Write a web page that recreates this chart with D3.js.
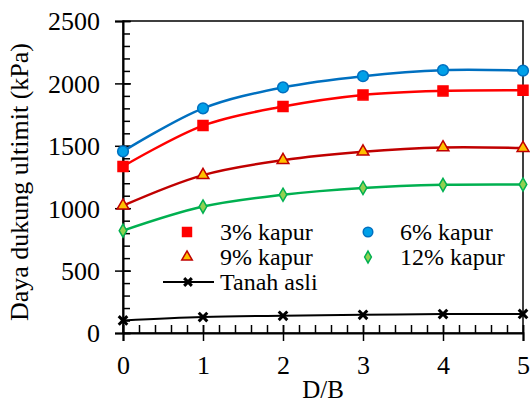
<!DOCTYPE html>
<html>
<head>
<meta charset="utf-8">
<script src="https://cdn.jsdelivr.net/npm/d3@7"></script>
<style>
  body { margin: 0; background: #fff; }
</style>
</head>
<body>
<svg width="530" height="402"></svg>
<script>
const db = [0, 1, 2, 3, 4, 5];
const kapur3 = [1335, 1662, 1815, 1908, 1940, 1945];
const kapur6 = [1455, 1800, 1968, 2058, 2106, 2102];
const kapur9 = [1020, 1265, 1385, 1453, 1487, 1482];
const kapur12 = [820, 1013, 1108, 1162, 1187, 1190];
const tanahAsli = [101, 128, 138, 146, 152, 153];
const xTicks = [0, 1, 2, 3, 4, 5];
const yTicks = [0, 500, 1000, 1500, 2000, 2500];

const FONT = 'Liberation Serif';
const svg = d3.select("svg");
const margin = {left: 123, right: 7, top: 21, bottom: 69};
const width = 530 - margin.left - margin.right;
const height = 402 - margin.top - margin.bottom;

const x = d3.scaleLinear().domain([0, 5]).range([margin.left, margin.left + width]);
const y = d3.scaleLinear().domain([0, 2500]).range([margin.top + height, margin.top]);

const g = svg.append('g');

// frame
g.append('rect')
    .attr('x', x(0)).attr('y', y(2500))
    .attr('width', x(5) - x(0)).attr('height', y(0) - y(2500))
    .attr('fill', 'none').attr('stroke', '#000').attr('stroke-width', 1.5);

// minor ticks (inside)
g.append('g')
    .attr('transform', `translate(0,${y(0)})`)
    .call(d3.axisTop(x).tickValues(d3.range(0, 5.01, 0.2)).tickSize(8).tickFormat(''))
    .call(a => a.select('.domain').remove())
    .selectAll('line').attr('stroke-width', 1.5);
g.append('g')
    .attr('transform', `translate(${x(0)},0)`)
    .call(d3.axisRight(y).tickValues(d3.range(0, 2501, 100)).tickSize(7).tickFormat(''))
    .call(a => a.select('.domain').remove())
    .selectAll('line').attr('stroke-width', 1.5);

// major ticks crossing the axis
const xAxis = g.append('g')
    .attr('transform', `translate(0,${y(0)})`)
    .call(d3.axisBottom(x).tickValues(xTicks).tickSize(8).tickPadding(15).tickFormat(d3.format('d')));
xAxis.select('.domain').attr('stroke-width', 2);
xAxis.selectAll('line').attr('stroke-width', 1.5).attr('y1', -8);
xAxis.selectAll('text').attr('font-size', 26).attr('font-family', FONT).attr('fill', '#000');

const yAxis = g.append('g')
    .attr('transform', `translate(${x(0)},0)`)
    .call(d3.axisLeft(y).tickValues(yTicks).tickSize(8).tickPadding(15).tickFormat(d3.format('d')));
yAxis.select('.domain').attr('stroke-width', 2);
yAxis.selectAll('line').attr('stroke-width', 1.5).attr('x1', 8);
yAxis.selectAll('text').attr('font-size', 26).attr('font-family', FONT).attr('fill', '#000').attr('dy', '0.34em');

// axis titles
svg.append('text')
    .attr('x', x(2.5)).attr('y', 398)
    .attr('text-anchor', 'middle').attr('font-size', 25).attr('font-family', FONT)
    .text('D/B');
svg.append('text')
    .attr('transform', 'translate(28,182) rotate(-90)')
    .attr('text-anchor', 'middle').attr('font-size', 26).attr('font-family', FONT)
    .text('Daya dukung ultimit (kPa)');

const series = [
  {name: '3% kapur', values: kapur3, line: '#FF0000', fill: '#FF0000', stroke: '#FF0000', symbol: d3.symbolSquare, size: 100},
  {name: '6% kapur', values: kapur6, line: '#0070C0', fill: '#00A0E8', stroke: '#0070C0', symbol: d3.symbolCircle, size: 90},
  {name: '9% kapur', values: kapur9, line: '#C00000', fill: '#FFC000', stroke: '#C00000', symbol: d3.symbolTriangle, size: 60},
  {name: '12% kapur', values: kapur12, line: '#00B050', fill: '#92D050', stroke: '#00B050', symbol: d3.symbolDiamond, size: 50},
  {name: 'Tanah asli', values: tanahAsli, line: '#000000', fill: '#000000', stroke: '#000000', symbol: d3.symbolX, size: 50}
];

const line = d3.line()
    .x((d, i) => x(db[i]))
    .y(d => y(d))
    .curve(d3.curveCatmullRom.alpha(0.5));

series.forEach(s => {
  g.append('path')
      .attr('d', line(s.values))
      .attr('fill', 'none')
      .attr('stroke', s.line)
      .attr('stroke-width', s.name === 'Tanah asli' ? 2 : 2.5);

  g.selectAll(null).data(s.values)
    .enter().append('path')
      .attr('transform', (d, i) => `translate(${x(db[i])},${y(d)})`)
      .attr('d', d3.symbol().type(s.symbol).size(s.size))
      .attr('fill', s.fill)
      .attr('stroke', s.stroke)
      .attr('stroke-width', s.symbol === d3.symbolX ? 3 : 1.5);
});

// legend
const legendPos = [
  {mx: 187, ty: 240, tx: 220},
  {mx: 368, ty: 240, tx: 400},
  {mx: 187, ty: 265, tx: 220},
  {mx: 368, ty: 265, tx: 400},
  {mx: 188, ty: 290, tx: 220}
];

const legend = svg.append('g');
series.forEach((s, i) => {
  const p = legendPos[i];
  const my = p.ty - 8;
  if (s.name === 'Tanah asli') {
    legend.append('line')
        .attr('x1', 163).attr('x2', 214).attr('y1', my).attr('y2', my)
        .attr('stroke', '#000').attr('stroke-width', 2);
  }
  legend.append('path')
      .attr('transform', `translate(${p.mx},${my})`)
      .attr('d', d3.symbol().type(s.symbol).size(s.size * 0.8))
      .attr('fill', s.fill)
      .attr('stroke', s.stroke)
      .attr('stroke-width', s.symbol === d3.symbolX ? 3 : 1.5);
  legend.append('text')
      .attr('x', p.tx).attr('y', p.ty)
      .attr('font-size', 24).attr('font-family', FONT)
      .text(s.name);
});
</script>
</body>
</html>
